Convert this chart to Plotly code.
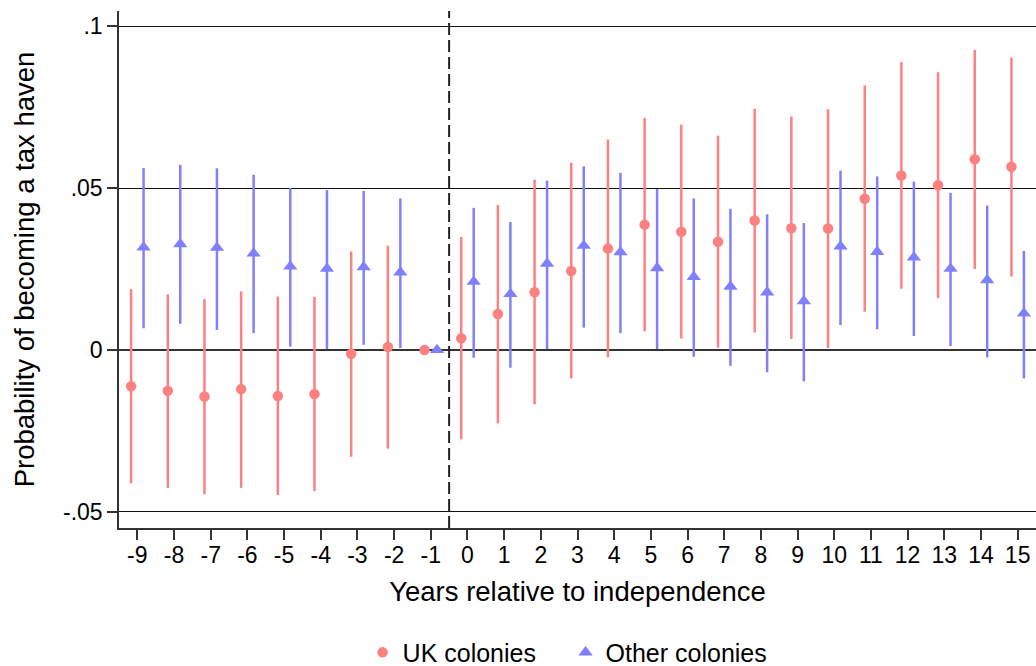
import plotly.graph_objects as go

years = list(range(-9, 16))

uk_est = [-0.0112, -0.0126, -0.0144, -0.0121, -0.0142, -0.0136, -0.0012, 0.0009, 0.0,
          0.0036, 0.0111, 0.0178, 0.0244, 0.0313, 0.0387, 0.0365, 0.0334, 0.0400,
          0.0376, 0.0375, 0.0467, 0.0539, 0.0509, 0.0589, 0.0566]
uk_lo = [-0.0412, -0.0426, -0.0446, -0.0426, -0.0448, -0.0436, -0.0330, -0.0305, 0.0,
         -0.0276, -0.0227, -0.0168, -0.0088, -0.0023, 0.0058, 0.0035, 0.0007, 0.0054,
         0.0034, 0.0006, 0.0118, 0.0189, 0.0160, 0.0250, 0.0227]
uk_hi = [0.0188, 0.0172, 0.0157, 0.0181, 0.0165, 0.0164, 0.0304, 0.0322, 0.0,
         0.0349, 0.0448, 0.0526, 0.0578, 0.0650, 0.0717, 0.0696, 0.0662, 0.0745,
         0.0721, 0.0744, 0.0817, 0.0889, 0.0858, 0.0927, 0.0903]

oth_est = [0.0317, 0.0327, 0.0316, 0.0298, 0.0258, 0.0251, 0.0256, 0.0240, 0.0,
           0.0211, 0.0173, 0.0267, 0.0322, 0.0302, 0.0253, 0.0226, 0.0196, 0.0178,
           0.0151, 0.0320, 0.0303, 0.0286, 0.0251, 0.0216, 0.0113]
oth_lo = [0.0067, 0.0081, 0.0062, 0.0052, 0.0010, 0.0003, 0.0016, 0.0006, 0.0,
          -0.0024, -0.0055, 0.0003, 0.0069, 0.0052, 0.0003, -0.0021, -0.0049, -0.0069,
          -0.0097, 0.0077, 0.0064, 0.0043, 0.0012, -0.0023, -0.0088]
oth_hi = [0.0562, 0.0572, 0.0561, 0.0541, 0.0500, 0.0494, 0.0491, 0.0468, 0.0,
          0.0439, 0.0395, 0.0523, 0.0567, 0.0547, 0.0497, 0.0468, 0.0436, 0.0419,
          0.0392, 0.0554, 0.0536, 0.0520, 0.0485, 0.0446, 0.0306]

y_tickvals = [-0.05, 0, 0.05, 0.1]
y_ticktext = ["-.05", "0", ".05", ".1"]

UK_COLOR = "#ff8080"
OTH_COLOR = "#8080ff"
OFFSET = 0.17
FONT = "Liberation Sans, Arial, Helvetica, sans-serif"

fig = go.Figure()

fig.add_trace(go.Scatter(
    x=[y - OFFSET for y in years], y=uk_est, mode="markers", name="UK colonies",
    marker=dict(symbol="circle", size=10.5, color=UK_COLOR),
    error_y=dict(type="data", symmetric=False,
                 array=[h - e for h, e in zip(uk_hi, uk_est)],
                 arrayminus=[e - l for e, l in zip(uk_est, uk_lo)],
                 width=0, thickness=2.5, color=UK_COLOR),
))
fig.add_trace(go.Scatter(
    x=[y + OFFSET for y in years], y=oth_est, mode="markers", name="Other colonies",
    marker=dict(symbol="triangle-up", size=12.5, color=OTH_COLOR),
    error_y=dict(type="data", symmetric=False,
                 array=[h - e for h, e in zip(oth_hi, oth_est)],
                 arrayminus=[e - l for e, l in zip(oth_est, oth_lo)],
                 width=0, thickness=2.5, color=OTH_COLOR),
))

fig.add_shape(type="line", xref="x", yref="paper", x0=-0.5, x1=-0.5, y0=0, y1=1,
              line=dict(color="#222222", width=2, dash="12px,5px"), layer="above")

fig.update_layout(
    width=1036, height=666,
    margin=dict(l=119, r=0, t=11, b=138, autoexpand=False),
    paper_bgcolor="white", plot_bgcolor="white",
    font=dict(family=FONT, color="black"),
    showlegend=True,
    legend=dict(orientation="h", x=0.487, xanchor="center", y=-0.241, yanchor="middle",
                font=dict(size=25, family=FONT), itemsizing="trace",
                entrywidth=158, entrywidthmode="pixels"),
    xaxis=dict(
        range=[-9.5, 15.5], tickmode="array", tickvals=years,
        ticktext=[str(y) for y in years], automargin=False,
        showgrid=False, zeroline=False,
        showline=True, linecolor="#333333", linewidth=1.5,
        ticks="outside", ticklen=10, tickwidth=1.5, tickcolor="#333333",
        tickfont=dict(size=23), ticklabelstandoff=-4,
        title=dict(text="Years relative to independence", font=dict(size=27.5), standoff=14),
    ),
    yaxis=dict(
        range=[-0.055, 0.1047], tickmode="array", tickvals=y_tickvals, ticktext=y_ticktext,
        automargin=False,
        showgrid=True, gridcolor="#111111", gridwidth=1,
        zeroline=True, zerolinecolor="#333333", zerolinewidth=2.2,
        showline=True, linecolor="#333333", linewidth=1.5,
        ticks="outside", ticklen=10, tickwidth=1.5, tickcolor="#333333",
        tickfont=dict(size=23), ticklabelstandoff=0,
        title=dict(text="Probability of becoming a tax haven", font=dict(size=27.5), standoff=20),
    ),
)

# remove the default 8px page margin so the figure fills the window exactly
fig.write_html("out.html", config={"displayModeBar": False},
               post_script="document.body.style.margin='0';")
